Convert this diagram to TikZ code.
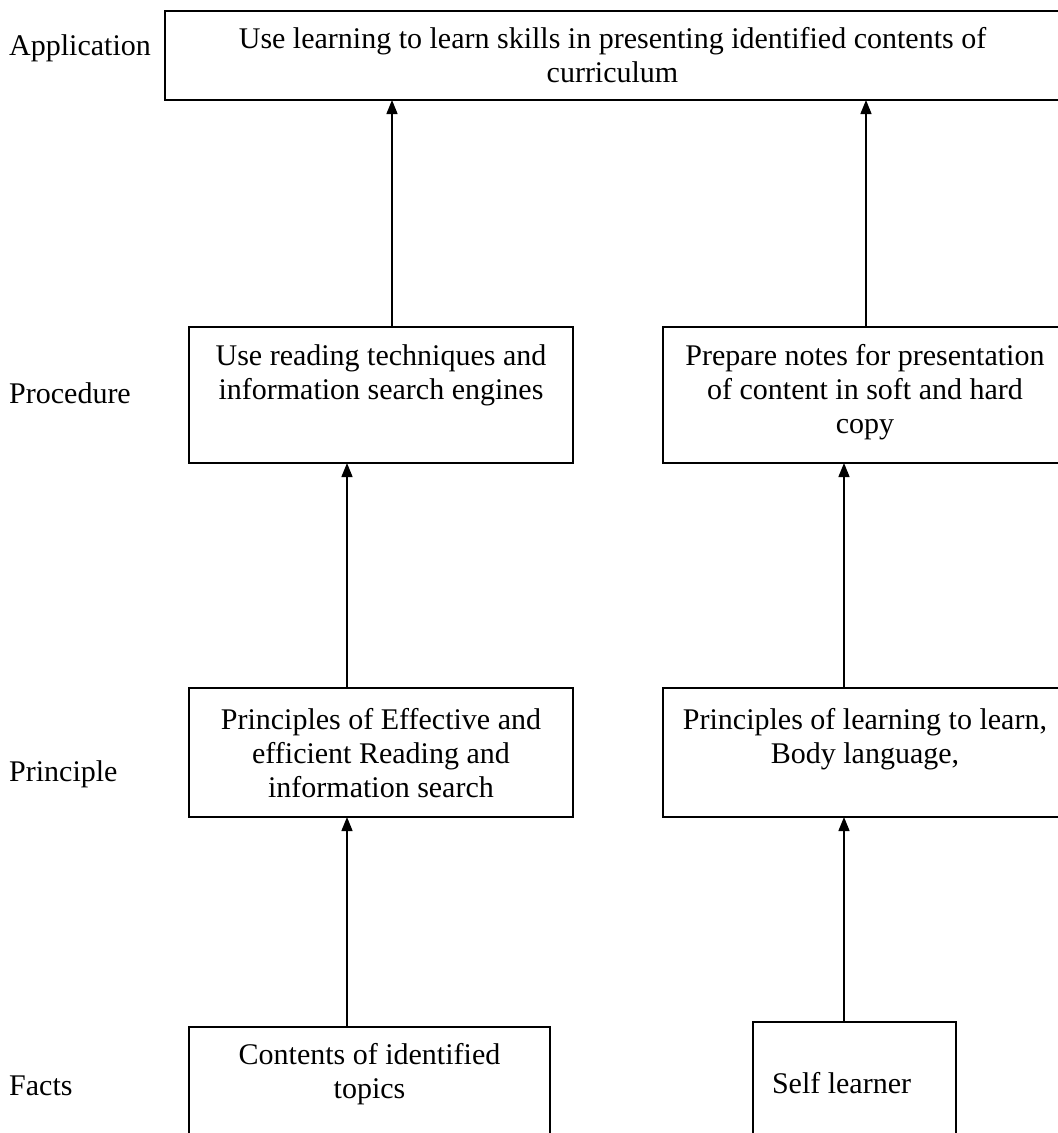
\documentclass[tikz,border=0pt]{standalone}
\usepackage{fontspec}
\setmainfont{Liberation Serif}
\usetikzlibrary{arrows.meta}
\newcommand{\bxtext}[4]{\begin{minipage}[t][#2][t]{#1}\centering\rule{0pt}{#3}#4\end{minipage}}
\newcommand{\bxleft}[5]{\begin{minipage}[t][#2][t]{#1}\raggedright\rule{0pt}{#3}\hspace*{#4}#5\end{minipage}}
\tikzset{
  boxst/.style={draw, line width=1.7pt, inner sep=0pt, outer sep=0pt, anchor=north west},
  levelst/.style={anchor=base west, inner sep=0pt},
  arr/.style={line width=1.4pt, -{Triangle[length=14pt,width=11pt]}}
}
\begin{document}
\begin{tikzpicture}[x=1pt, y=-1pt, font=\fontsize{30}{34}\selectfont]
\useasboundingbox (0,0) rectangle (1058,1133);
% level labels
\node[levelst] (lapp) at (9,55) {Application};
\node[levelst] (lpro) at (9,403) {Procedure};
\node[levelst] (lpri) at (9,781) {Principle};
\node[levelst] (lfac) at (9,1095) {Facts};
% boxes
\node[boxst] (app) at (165,11) {\bxtext{895pt}{89pt}{37pt}{Use learning to learn skills in presenting identified contents of\\curriculum}};
\node[boxst] (proL) at (189,327) {\bxtext{384pt}{136pt}{38pt}{Use reading techniques and\\information search engines}};
\node[boxst] (proR) at (663,327) {\bxtext{404pt}{136pt}{38pt}{Prepare notes for presentation\\of content in soft and hard\\copy}};
\node[boxst] (priL) at (189,688) {\bxtext{384pt}{129pt}{41pt}{Principles of Effective and\\efficient Reading and\\information search}};
\node[boxst] (priR) at (663,688) {\bxtext{404pt}{129pt}{41pt}{Principles of learning to learn,\\Body language,}};
\node[boxst] (facL) at (189,1027) {\bxtext{361pt}{120pt}{37pt}{Contents of identified\\topics}};
\node[boxst] (facR) at (753,1022) {\bxleft{203pt}{125pt}{71pt}{19pt}{Self learner}};
% arrow columns
\coordinate (xa) at (392,0);
\coordinate (xb) at (866,0);
\coordinate (xc) at (347,0);
\coordinate (xd) at (844,0);
\draw[arr] (proL.north -| xa) -- (app.south -| xa);
\draw[arr] (proR.north -| xb) -- (app.south -| xb);
\draw[arr] (priL.north -| xc) -- (proL.south -| xc);
\draw[arr] (priR.north -| xd) -- (proR.south -| xd);
\draw[arr] (facL.north -| xc) -- (priL.south -| xc);
\draw[arr] (facR.north -| xd) -- (priR.south -| xd);
\end{tikzpicture}
\end{document}
